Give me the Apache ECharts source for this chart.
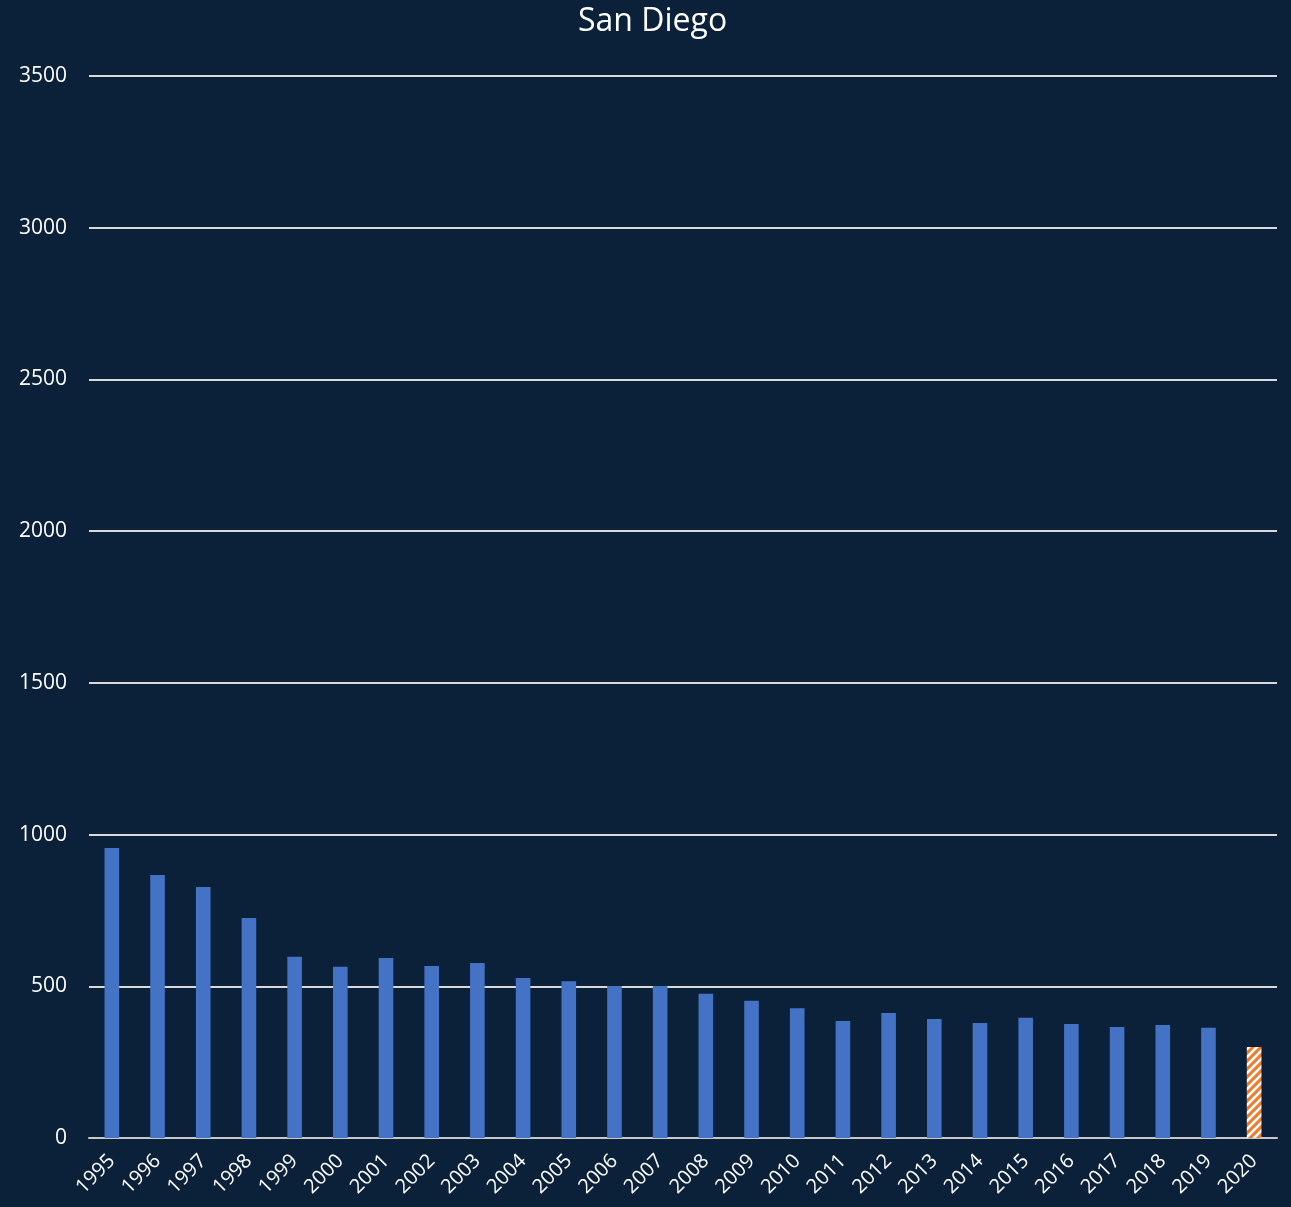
<!DOCTYPE html>
<html>
<head>
<meta charset="utf-8">
<script src="https://cdn.jsdelivr.net/npm/echarts@6/dist/echarts.min.js"></script>
<style>
	html, body { margin: 0; padding: 0; background: #0b2039; }
	#main { width: 1291px; height: 1207px; }
</style>
</head>
<body>
<div id="main"></div>
<script>
var years = ['1995', '1996', '1997', '1998', '1999', '2000', '2001', '2002', '2003', '2004',
	'2005', '2006', '2007', '2008', '2009', '2010', '2011', '2012', '2013', '2014',
	'2015', '2016', '2017', '2018', '2019', '2020'];
var counts = [956, 867, 827, 725, 597, 564, 593, 567, 577, 527,
	517, 501, 501, 475, 452, 428, 386, 412, 392, 379,
	396, 376, 366, 372, 363, 300];
var yTicks = [0, 500, 1000, 1500, 2000, 2500, 3000, 3500];
var hatchedYear = '2020';

// orange with white diagonal stripes for the partial year
var makeHatch = function() {
	var n = 8;
	var c = document.createElement('canvas');
	c.width = n;
	c.height = n;
	var g = c.getContext('2d');
	g.fillStyle = '#ed7d31';
	g.fillRect(0, 0, n, n);
	g.strokeStyle = '#ffffff';
	g.lineWidth = 2.6;
	g.beginPath();
	g.moveTo(0, n); g.lineTo(n, 0);
	g.moveTo(-n / 2, n / 2); g.lineTo(n / 2, -n / 2);
	g.moveTo(n / 2, n * 1.5); g.lineTo(n * 1.5, n / 2);
	g.stroke();
	return c;
};
var hatch = makeHatch();

var barData = [];
for (var i = 0; i < years.length; i++) {
	if (years[i] == hatchedYear) {
		barData.push({ value: counts[i], itemStyle: { color: { image: hatch, repeat: 'repeat' } } });
	} else {
		barData.push(counts[i]);
	}
}

var chart = echarts.init(document.getElementById('main'));
var option = {
	backgroundColor: '#0b2039',
	animation: false,
	title: {
		text: 'San Diego',
		left: 573,
		top: 1,
		textStyle: { color: '#ffffff', fontSize: 32, fontWeight: 'normal', fontFamily: 'Open Sans' }
	},
	grid: { left: 89, right: 14, top: 76, bottom: 69, containLabel: false },
	xAxis: {
		type: 'category',
		data: years,
		axisLine: { lineStyle: { color: '#c8c8c8', width: 2 } },
		axisTick: { show: false },
		axisLabel: { color: '#ffffff', fontSize: 20, fontFamily: 'Open Sans', rotate: 45, margin: 20, interval: 0 }
	},
	yAxis: {
		type: 'value',
		min: yTicks[0],
		max: yTicks[yTicks.length - 1],
		interval: 500,
		axisLine: { show: false },
		axisTick: { show: false },
		axisLabel: {
			color: '#ffffff', fontSize: 21, fontFamily: 'Open Sans', margin: 22,
			formatter: function(v) { return String(v); }
		},
		splitLine: { lineStyle: { color: '#d9d9d9', width: 2 } }
	},
	series: [{
		type: 'bar',
		data: barData,
		barWidth: '32%',
		itemStyle: { color: '#4472c4' }
	}]
};
chart.setOption(option);
</script>
</body>
</html>
